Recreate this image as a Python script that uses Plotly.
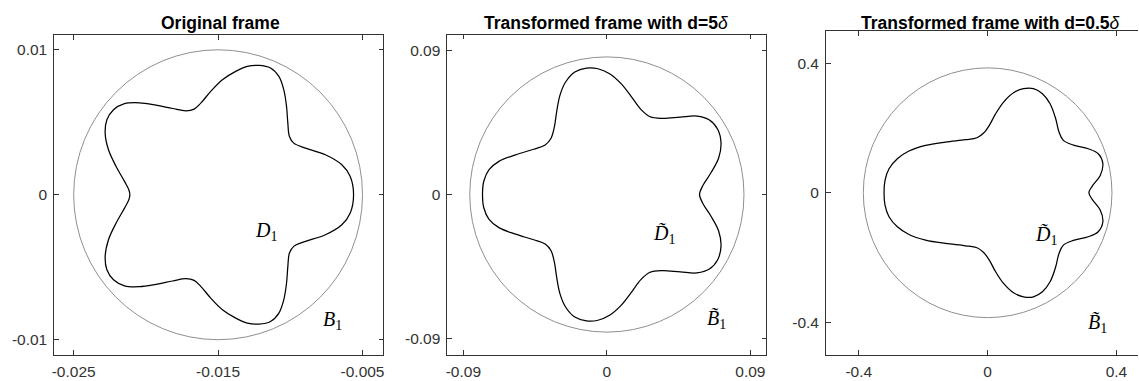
import plotly.graph_objects as go

W, H = 1139, 381

# ---------------- data ----------------
titles = ["Original frame", "Transformed frame with d=5", "Transformed frame with d=0.5"]

p1_ticks_x = [-0.025, -0.015, -0.005]
p1_text_x = ["-0.025", "-0.015", "-0.005"]
p1_ticks_y = [-0.01, 0, 0.01]
p1_text_y = ["-0.01", "0", "0.01"]

p2_ticks_x = [-0.09, 0, 0.09]
p2_text_x = ["-0.09", "0", "0.09"]
p2_ticks_y = [-0.09, 0, 0.09]
p2_text_y = ["-0.09", "0", "0.09"]

p3_ticks_x = [-0.4, 0, 0.4]
p3_text_x = ["-0.4", "0", "0.4"]
p3_ticks_y = [-0.4, 0, 0.4]
p3_text_y = ["-0.4", "0", "0.4"]

# circles B1 (centre x, centre y, radius)
b_centers_x = [-0.015, 0.0, 0.0]
b_centers_y = [0.0, 0.0, 0.0]
b_radii = [0.01, 0.086, 0.386]

# D1 boundary, original frame
d1_x = [-0.00562, -0.00585, -0.00643, -0.00757, -0.00895, -0.00976, -0.01006, -0.01017, -0.01026, -0.01045,
        -0.01079, -0.01137, -0.01217, -0.01298, -0.01378, -0.01470, -0.01551, -0.01620, -0.01666, -0.01723,
        -0.01815, -0.01930, -0.02045, -0.02148, -0.02224, -0.02270, -0.02282, -0.02259, -0.02206, -0.02148,
        -0.02118, -0.02111,
        -0.02118, -0.02148, -0.02206, -0.02259, -0.02282, -0.02270, -0.02224, -0.02148, -0.02045, -0.01930,
        -0.01815, -0.01723, -0.01666, -0.01620, -0.01551, -0.01470, -0.01378, -0.01298, -0.01217, -0.01137,
        -0.01079, -0.01045, -0.01026, -0.01017, -0.01006, -0.00976, -0.00895, -0.00757, -0.00643, -0.00585,
        -0.00562]
d1_y = [0, 0.00126, 0.00207, 0.00276, 0.00322, 0.00356, 0.00402, 0.00494, 0.00609, 0.00724,
        0.00816, 0.00874, 0.00892, 0.00885, 0.00851, 0.00793, 0.00713, 0.00632, 0.00591, 0.00579,
        0.00595, 0.00618, 0.00634, 0.00628, 0.00586, 0.00517, 0.00425, 0.00310, 0.00195, 0.00092,
        0.00034, 0,
        -0.00034, -0.00092, -0.00195, -0.00310, -0.00425, -0.00517, -0.00586, -0.00628, -0.00634, -0.00618,
        -0.00595, -0.00579, -0.00591, -0.00632, -0.00713, -0.00793, -0.00851, -0.00885, -0.00892, -0.00874,
        -0.00816, -0.00724, -0.00609, -0.00494, -0.00402, -0.00356, -0.00322, -0.00276, -0.00207, -0.00126,
        0]

# transformed D1, d = 5 delta
d2_x = [-0.0780, -0.0772, -0.0739, -0.0677, -0.0573, -0.0459, -0.0387, -0.0350, -0.0329, -0.0315,
        -0.0294, -0.0259, -0.0201, -0.0128, -0.0056, 0.0017, 0.0089, 0.0151, 0.0213, 0.0271,
        0.0348, 0.0461, 0.0565, 0.0643, 0.0695, 0.0716, 0.0701, 0.0652, 0.0602, 0.0581,
        0.0602, 0.0652, 0.0701, 0.0716, 0.0695, 0.0643, 0.0565, 0.0461, 0.0348, 0.0271,
        0.0213, 0.0151, 0.0089, 0.0017, -0.0056, -0.0128, -0.0201, -0.0259, -0.0294, -0.0315,
        -0.0329, -0.0350, -0.0387, -0.0459, -0.0573, -0.0677, -0.0739, -0.0772, -0.0780]
d2_y = [0, 0.0083, 0.0155, 0.0207, 0.0248, 0.0283, 0.0310, 0.0352, 0.0424, 0.0517,
        0.0621, 0.0703, 0.0766, 0.0790, 0.0786, 0.0755, 0.0693, 0.0615, 0.0532, 0.0486,
        0.0476, 0.0484, 0.0490, 0.0466, 0.0408, 0.0321, 0.0228, 0.0134, 0.0056, 0,
        -0.0056, -0.0134, -0.0228, -0.0321, -0.0408, -0.0466, -0.0490, -0.0484, -0.0476, -0.0486,
        -0.0532, -0.0615, -0.0693, -0.0755, -0.0786, -0.0790, -0.0766, -0.0703, -0.0621, -0.0517,
        -0.0424, -0.0352, -0.0310, -0.0283, -0.0248, -0.0207, -0.0155, -0.0083, 0]

# transformed D1, d = 0.5 delta
d3_x = [-0.3216, -0.3186, -0.3062, -0.2804, -0.2443, -0.1928, -0.1309, -0.0691, -0.0330, -0.0124,
        0.0052, 0.0237, 0.0495, 0.0804, 0.1113, 0.1423, 0.1701, 0.1938, 0.2113, 0.2216,
        0.2351, 0.2660, 0.3124, 0.3433, 0.3577, 0.3495, 0.3247, 0.3144,
        0.3247, 0.3495, 0.3577, 0.3433, 0.3124, 0.2660, 0.2351, 0.2216, 0.2113, 0.1938,
        0.1701, 0.1423, 0.1113, 0.0804, 0.0495, 0.0237, 0.0052, -0.0124, -0.0330, -0.0691,
        -0.1309, -0.1928, -0.2443, -0.2804, -0.3062, -0.3186, -0.3216]
d3_y = [0, 0.0381, 0.0742, 0.1052, 0.1289, 0.1464, 0.1567, 0.1639, 0.1701, 0.1845,
        0.2082, 0.2423, 0.2804, 0.3093, 0.3216, 0.3216, 0.3062, 0.2753, 0.2289, 0.1876,
        0.1619, 0.1474, 0.1361, 0.1206, 0.0897, 0.0536, 0.0206, 0,
        -0.0206, -0.0536, -0.0897, -0.1206, -0.1361, -0.1474, -0.1619, -0.1876, -0.2289, -0.2753,
        -0.3062, -0.3216, -0.3216, -0.3093, -0.2804, -0.2423, -0.2082, -0.1845, -0.1701, -0.1639,
        -0.1567, -0.1464, -0.1289, -0.1052, -0.0742, -0.0381, 0]

# label positions (data coords)
d_label_x = [-0.01171, 0.0358, 0.1814]
d_label_y = [-0.00253, -0.0248, -0.132]
b_label_x = [-0.00709, 0.0685, 0.342]
b_label_y = [-0.00867, -0.0782, -0.403]

# ---------------- layout helpers ----------------
def fx(px):
    return px / W

def fy(py):
    return 1 - py / H

AX = "#333333"
TICKFONT = dict(family="Liberation Sans, Arial, sans-serif", size=15.5, color="#333333")

def axis(domain, rng, tv, tt, mirror=True):
    return dict(domain=domain, range=rng, tickvals=tv, ticktext=tt, showgrid=False, zeroline=False,
                showline=True, linecolor=AX, linewidth=1, mirror=("ticks" if mirror else False),
                ticks="inside", ticklen=4.5, tickwidth=1, tickcolor=AX, tickfont=TICKFONT,
                ticklabelstandoff=3, fixedrange=True)

fig = go.Figure()
curves = [(d1_x, d1_y), (d2_x, d2_y), (d3_x, d3_y)]
for i, (cx, cy) in enumerate(curves):
    ax = "" if i == 0 else str(i + 1)
    fig.add_trace(go.Scatter(x=cx, y=cy, mode="lines", line=dict(color="black", width=1.25, shape="spline"),
                             xaxis="x" + ax, yaxis="y" + ax, showlegend=False, hoverinfo="skip"))
    fig.add_shape(type="circle", xref="x" + ax, yref="y" + ax,
                  x0=b_centers_x[i] - b_radii[i], x1=b_centers_x[i] + b_radii[i],
                  y0=b_centers_y[i] - b_radii[i], y1=b_centers_y[i] + b_radii[i],
                  line=dict(color="#8f8f8f", width=1), layer="below")

layout = dict(
    width=W, height=H, margin=dict(l=0, r=0, t=0, b=0),
    plot_bgcolor="white", paper_bgcolor="white", showlegend=False,
    xaxis=axis([fx(51.5), fx(381.5)], [-0.02634, -0.00357], p1_ticks_x, p1_text_x),
    yaxis=axis([fy(354.5), fy(35)], [-0.01102, 0.01102], p1_ticks_y, p1_text_y),
    xaxis2=axis([fx(446), fx(766)], [-0.1, 0.1], p2_ticks_x, p2_text_x),
    yaxis2=axis([fy(354.5), fy(34.5)], [-0.1, 0.1], p2_ticks_y, p2_text_y),
    xaxis3=axis([fx(826), 1.0], [-0.5015, 0.4668], p3_ticks_x, p3_text_x),
    yaxis3=axis([fy(354.5), fy(31)], [-0.5, 0.5], p3_ticks_y, p3_text_y, mirror=False),
)
layout["xaxis"]["anchor"] = "y"
layout["yaxis"]["anchor"] = "x"
layout["xaxis2"]["anchor"] = "y2"
layout["yaxis2"]["anchor"] = "x2"
layout["xaxis3"]["anchor"] = "y3"
layout["yaxis3"]["anchor"] = "x3"
fig.update_layout(**layout)

# titles
title_x = [218, 605.5, 990]
title_text = ["<b>" + titles[0] + "</b>",
              "<b>" + titles[1] + "</b><i>δ</i>",
              "<b>" + titles[2] + "</b><i>δ</i>"]
for tx, tt in zip(title_x, title_text):
    fig.add_annotation(x=fx(tx), y=fy(23), xref="paper", yref="paper", text=tt, showarrow=False,
                       xanchor="center", yanchor="middle",
                       font=dict(family="Liberation Sans, Arial, sans-serif", size=17.5, color="black"))

# region labels
d_texts = ["<i>D</i><sub>1</sub>", "<i>D\u0303</i><sub>1</sub>", "<i>D\u0303</i><sub>1</sub>"]
b_texts = ["<i>B</i><sub>1</sub>", "<i>B\u0303</i><sub>1</sub>", "<i>B\u0303</i><sub>1</sub>"]
for i in range(3):
    ax = "" if i == 0 else str(i + 1)
    for lx, ly, lt in [(d_label_x[i], d_label_y[i], d_texts[i]), (b_label_x[i], b_label_y[i], b_texts[i])]:
        fig.add_annotation(x=lx, y=ly, xref="x" + ax, yref="y" + ax, text=lt, showarrow=False,
                           xanchor="center", yanchor="middle",
                           font=dict(family="Liberation Serif, Times New Roman, serif", size=20, color="black"))

fig.write_html("out.html", config={"displayModeBar": False, "staticPlot": True},
               post_script="document.body.style.margin='0';document.body.style.overflow='hidden';")
